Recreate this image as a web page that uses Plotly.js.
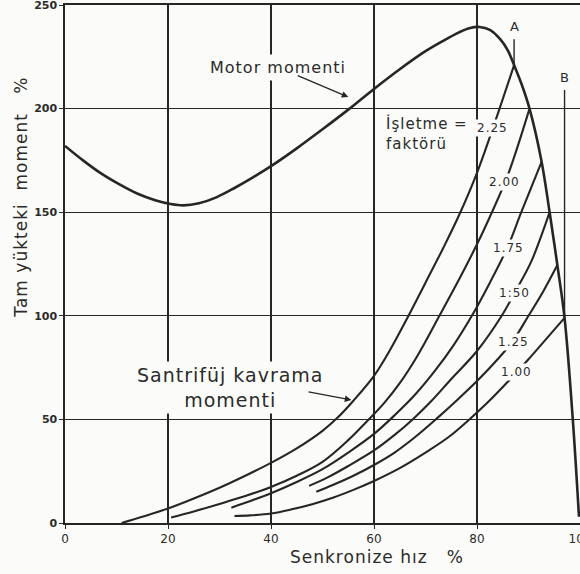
<!DOCTYPE html>
<html>
<head>
<meta charset="utf-8">
<script src="https://cdn.plot.ly/plotly-3.0.1.min.js"></script>
<style>
  html, body { margin: 0; padding: 0; background: #fbfbf9; }
  #chart { width: 580px; height: 574px; }
  .annotation-text { letter-spacing: 1px; }
</style>
</head>
<body>
<div id="chart"></div>
<script>
// ---- Data (x: synchronous speed %, y: full-load torque %) ----
const xTicks = [0, 20, 40, 60, 80, 100];
const yTicks = [0, 50, 100, 150, 200, 250];

const motorX = [0, 3.5, 7, 10.5, 14, 17.5, 20.5, 23, 26, 29.5, 33, 36.5, 40, 45, 50, 55, 60, 65, 70, 73.5, 76.5, 78.5, 80.5, 82.5, 84.5, 86, 87.2, 88.7, 90.2, 92.5, 94.1, 95.6, 97, 98.6, 99.8];
const motorY = [182, 175, 168.7, 163.5, 159, 155.8, 154, 153.3, 154.3, 157.3, 161.8, 166.8, 172.2, 180.8, 190, 199.5, 209.5, 219, 227.7, 232.8, 236.8, 238.8, 239.4, 238, 233.5, 228, 221, 211.5, 200, 175, 150, 124.5, 99, 50, 3];

const serviceFactors = ['2.25', '2.00', '1.75', '1:50', '1.25', '1.00'];

const c225X = [11, 15, 20, 25, 30, 35, 40, 45, 50, 53, 56, 60, 63, 66.7, 70, 73.5, 76.6, 80, 83.7, 87.2];
const c225Y = [0, 3, 7, 11.8, 17, 22.8, 29, 36, 44.5, 51, 59, 71, 83, 100, 116, 133, 149, 169, 195, 221];

const c200X = [20.6, 25, 30, 35, 40, 45, 50, 55, 58.6, 62, 65, 68.5, 72.7, 76.5, 80, 82.9, 86, 90.2];
const c200Y = [2.7, 5.6, 9.2, 13, 17.4, 22.8, 29.5, 40, 49, 58, 67.5, 81, 100, 117.5, 134.5, 150, 168, 200];

const c175X = [32.3, 36, 40, 45, 50, 55, 60, 64, 68, 72, 75.5, 79, 82.5, 86, 88.6, 92.5];
const c175Y = [7.4, 10.6, 14.4, 19.8, 26, 34, 43, 52, 62, 74, 86, 100, 116, 133.5, 150, 174];

const c150X = [47.4, 51, 55, 60, 64, 67.5, 71, 75, 80, 84.8, 87.5, 90.5, 94.1];
const c150Y = [17.9, 22, 27.5, 35, 42.5, 50, 58.5, 69.5, 83, 100, 112, 126, 150];

const c125X = [48.8, 52, 56, 60, 64, 68, 72, 76, 80, 84, 87, 90, 92.8, 95.6];
const c125Y = [15.1, 18.3, 22.8, 28, 34, 41.5, 50, 59, 68.5, 79, 88, 100, 111.5, 124.5];

const c100X = [32.9, 36, 40, 44, 48, 52, 56, 60, 65, 70, 74.5, 78.3, 82, 86.3, 90, 93.5, 97];
const c100Y = [3.4, 3.7, 4.6, 6.6, 9.1, 12.2, 16, 20.3, 26.5, 34, 41.5, 49.5, 58, 69, 79, 89, 99];

// Marker lines A (2.25 limit) and B (1.00 limit)
const lineAX = [87.2, 87.2];
const lineAY = [233.5, 221];
const lineBX = [97, 97];
const lineBY = [209, 99];

// ---- Styling ----
const INK = '#262626';
const TXT = '#2b2b2b';
const FONT = 'DejaVu Sans';
const BG = '#fbfbf9';
const clutchX = [c225X, c200X, c175X, c150X, c125X, c100X];
const clutchY = [c225Y, c200Y, c175Y, c150Y, c125Y, c100Y];

const traces = [];
traces.push({
  x: motorX, y: motorY, type: 'scatter', mode: 'lines',
  line: {color: INK, width: 2.6, shape: 'spline', smoothing: 1},
  hoverinfo: 'skip', showlegend: false
});
clutchX.forEach((xs, i) => {
  traces.push({
    x: xs, y: clutchY[i], type: 'scatter', mode: 'lines',
    name: serviceFactors[i],
    line: {color: INK, width: 2.1, shape: 'spline', smoothing: 1},
    hoverinfo: 'skip', showlegend: false
  });
});
[[lineAX, lineAY], [lineBX, lineBY]].forEach(([xs, ys]) => {
  traces.push({
    x: xs, y: ys, type: 'scatter', mode: 'lines',
    line: {color: INK, width: 1.4},
    hoverinfo: 'skip', showlegend: false
  });
});

// Label positions (layout only)
const labelPos = [[83.0, 190.5], [85.3, 164.7], [86.2, 132.6], [87.2, 110.8], [87.0, 87.5], [87.7, 73.0]];

const annotations = serviceFactors.map((t, i) => ({
  x: labelPos[i][0], y: labelPos[i][1], xref: 'x', yref: 'y',
  text: t, showarrow: false, bgcolor: BG, borderpad: 1,
  font: {family: FONT, size: 12, color: TXT}
}));

annotations.push(
  {x: 87.3, y: 239.5, xref: 'x', yref: 'y', text: 'A', showarrow: false,
   font: {family: FONT, size: 13, color: TXT}},
  {x: 97, y: 215, xref: 'x', yref: 'y', text: 'B', showarrow: false,
   font: {family: FONT, size: 13, color: TXT}},
  {x: 41.4, y: 219.6, xref: 'x', yref: 'y', text: 'Motor momenti', showarrow: false,
   bgcolor: BG, borderpad: 3, font: {family: FONT, size: 16, color: TXT}},
  {x: 55.0, y: 205.6, ax: 44.9, ay: 216.2, xref: 'x', yref: 'y', axref: 'x', ayref: 'y',
   text: '', showarrow: true, arrowhead: 2, arrowsize: 1, arrowwidth: 1.3, arrowcolor: INK},
  {x: 61.6, y: 188.2, xref: 'x', yref: 'y', xanchor: 'left',
   text: 'İşletme =<br>faktörü', align: 'left', showarrow: false,
   bgcolor: BG, borderpad: 3, font: {family: FONT, size: 15, color: TXT}},
  {x: 32.2, y: 65.2, xref: 'x', yref: 'y',
   text: 'Santrifüj kavrama<br>momenti', align: 'center', showarrow: false,
   bgcolor: BG, borderpad: 2, font: {family: FONT, size: 19, color: TXT}},
  {x: 55.6, y: 59.4, ax: 47.0, ay: 63.4, xref: 'x', yref: 'y', axref: 'x', ayref: 'y',
   text: '', showarrow: true, arrowhead: 2, arrowsize: 1, arrowwidth: 1.3, arrowcolor: INK},
  {x: 0.606, y: -0.066, xref: 'paper', yref: 'paper', xanchor: 'center', yanchor: 'middle',
   text: 'Senkronize hız\u00a0\u00a0\u00a0%', showarrow: false,
   font: {family: FONT, size: 17, color: TXT}},
  {x: -0.0855, y: 0.63, xref: 'paper', yref: 'paper', xanchor: 'center', yanchor: 'middle',
   textangle: -90,
   text: 'Tam yükteki\u00a0\u00a0moment\u00a0\u00a0\u00a0%', showarrow: false,
   font: {family: FONT, size: 17, color: TXT}}
);

const layout = {
  width: 580, height: 574,
  margin: {l: 65, r: 0, t: 5, b: 51},
  paper_bgcolor: BG, plot_bgcolor: BG,
  showlegend: false,
  xaxis: {
    range: [0, 100], tickvals: xTicks, ticktext: xTicks.map(String),
    showgrid: true, gridcolor: INK, gridwidth: 1.3,
    showline: true, linecolor: INK, linewidth: 1.6, mirror: true,
    zeroline: false, ticks: 'outside', ticklen: 4, tickcolor: INK,
    ticklabeloverflow: 'allow',
    tickfont: {family: FONT, size: 12, color: TXT}
  },
  yaxis: {
    range: [0, 250], tickvals: yTicks, ticktext: yTicks.map(String),
    showgrid: true, gridcolor: INK, gridwidth: 1.3,
    showline: true, linecolor: INK, linewidth: 1.6,
    zeroline: false, ticks: 'outside', ticklen: 4, tickcolor: INK,
    ticklabeloverflow: 'allow',
    tickfont: {family: FONT, size: 11, color: TXT, weight: 'bold'}
  },
  annotations: annotations
};

Plotly.newPlot('chart', traces, layout, {staticPlot: true, displayModeBar: false});
</script>
</body>
</html>
